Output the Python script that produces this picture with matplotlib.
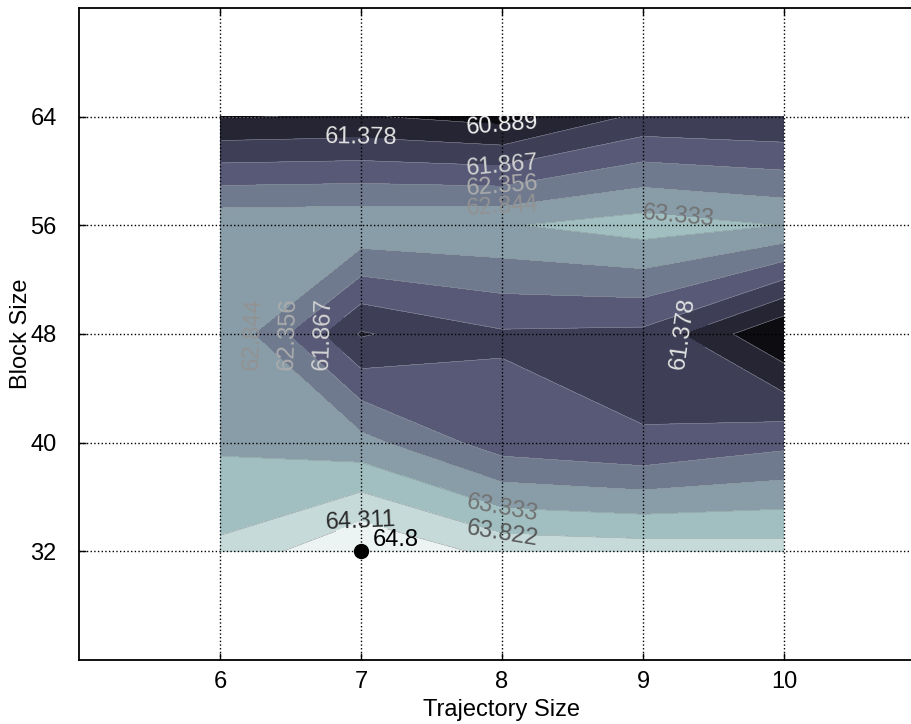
import numpy as np
import matplotlib
matplotlib.use("Agg")
import matplotlib.pyplot as plt

# ---- data ----
traj_sizes = [6, 7, 8, 9, 10]
block_sizes = [32, 40, 48, 56, 64]
# rows follow block_sizes, columns follow traj_sizes
row_32 = [63.92, 64.80, 64.15, 64.08, 64.04]
row_40 = [63.25, 63.01, 62.10, 61.89, 62.22]
row_48 = [63.31, 61.33, 61.80, 61.75, 60.40]
row_56 = [63.22, 63.25, 63.29, 63.57, 63.32]
row_64 = [60.86, 60.93, 60.70, 61.49, 61.42]
x_ticks = [6, 7, 8, 9, 10]
y_ticks = [32, 40, 48, 56, 64]

Z = np.array([row_32, row_40, row_48, row_56, row_64])
X, Y = np.meshgrid(traj_sizes, block_sizes)
levels = np.linspace(Z.min(), Z.max(), 10)

plt.rcParams['font.family'] = ['Liberation Sans', 'DejaVu Sans']
FS = 17

fig = plt.figure(figsize=(9.12, 7.24), dpi=100)
ax = fig.add_axes([79 / 912, 64 / 724, 846 / 912, 652 / 724])

ax.contourf(X, Y, Z, levels=levels, cmap='bone')

label_colors = ['#f2f2f2', '#e2e2e2', '#d2d2d2', '#acacac',
                '#929292', '#727272', '#585858', '#2a2a2a']
cs = ax.contour(X, Y, Z, levels=levels[1:-1], colors=label_colors,
                linewidths=0.3, alpha=0.6)
label_pos = [(7.0, 62.45), (8.0, 63.4), (8.0, 59.95), (8.0, 58.65),
             (8.0, 57.4), (9.25, 56.6), (6.2, 48.0), (6.47, 48.0),
             (6.7, 48.0), (9.28, 48.0), (7.0, 34.6), (8.0, 35.0),
             (8.0, 33.3)]
labels = ax.clabel(cs, fmt='%.3f', fontsize=FS, manual=label_pos,
                   inline=True)
for t in labels:
    t.set_alpha(1.0)

# maximum
zmax = Z.max()
iy, ix = np.unravel_index(np.argmax(Z), Z.shape)
ax.plot(traj_sizes[ix], block_sizes[iy], 'o', color='black', markersize=10,
        zorder=5)
ax.text(traj_sizes[ix] + 0.08, block_sizes[iy] + 0.05, f'{zmax:g}',
        fontsize=FS, color='black', ha='left', va='bottom', zorder=6)

ax.set_xlim(5, 11)
ax.set_ylim(24, 72)
ax.set_xticks(x_ticks)
ax.set_yticks(y_ticks)
ax.tick_params(direction='in', top=True, right=True, labelsize=FS,
               length=5, width=1)
ax.tick_params(axis='x', pad=8)
ax.tick_params(axis='y', pad=16)
ax.grid(True, linestyle=':', color='black', linewidth=1)
ax.set_axisbelow(False)
for s in ax.spines.values():
    s.set_linewidth(1.3)
ax.set_xlabel('Trajectory Size', fontsize=FS, labelpad=4)
ax.set_ylabel('Block Size', fontsize=FS)
ax.yaxis.set_label_coords(-0.056, 0.5)

fig.savefig('out.png', dpi=100)
